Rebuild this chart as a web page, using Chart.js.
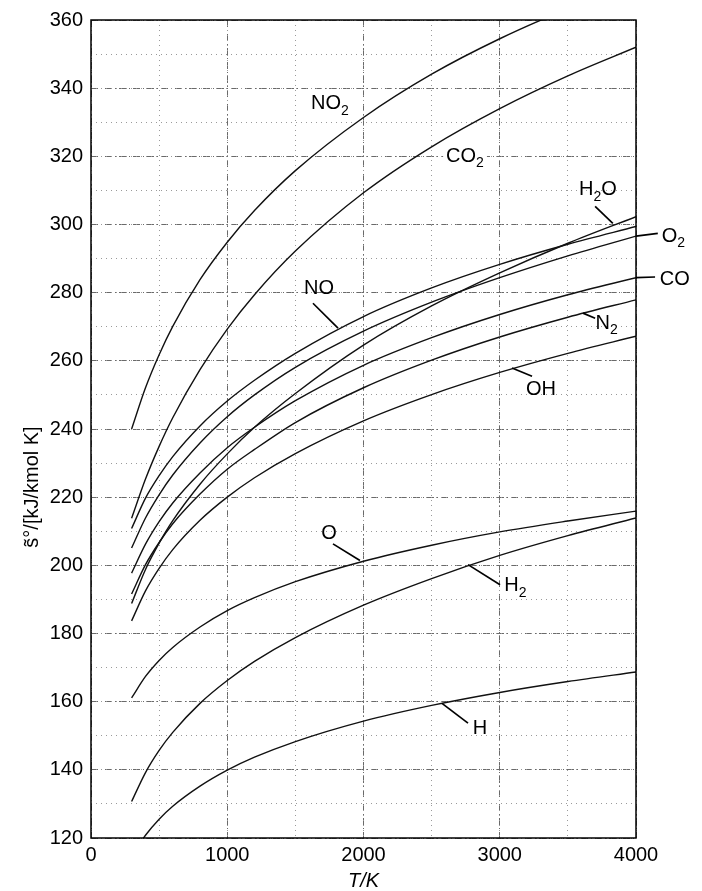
<!DOCTYPE html>
<html>
<head>
<meta charset="utf-8">
<script src="https://cdn.jsdelivr.net/npm/chart.js@4/dist/chart.umd.min.js"></script>
<style>
html, body { margin: 0; padding: 0; background: #fff; }
</style>
</head>
<body>
<canvas id="graph1" width="702" height="891"></canvas>
<script>
// temperatures (K) and standard entropies (kJ/kmol K)
var temps = [298, 400, 500, 600, 800, 1000, 1200, 1500, 2000, 2500, 3000, 3500, 4000];
var s_NO2 = [240.0, 252.1, 261.8, 270.1, 283.8, 294.8, 304.1, 315.8, 331.4, 344.1, 354.5, 363.3, 370.9];
var s_CO2 = [213.8, 225.3, 234.9, 243.3, 257.4, 269.3, 279.4, 292.2, 309.3, 322.8, 334.0, 343.6, 352.0];
var s_H2O = [188.8, 198.8, 206.5, 213.1, 223.8, 232.7, 240.5, 250.4, 264.6, 276.1, 285.8, 294.5, 302.3];
var s_O2  = [205.1, 213.9, 220.7, 226.5, 235.9, 243.6, 250.0, 258.1, 268.7, 277.2, 284.4, 290.8, 296.6];
var s_NO  = [210.8, 219.7, 226.3, 231.9, 240.9, 248.2, 254.3, 262.2, 273.0, 281.4, 288.3, 294.2, 299.4];
var s_CO  = [197.7, 206.2, 212.8, 218.3, 227.1, 234.5, 240.5, 248.3, 258.7, 266.8, 273.6, 279.4, 284.4];
var s_N2  = [191.6, 200.2, 206.7, 212.2, 220.9, 228.2, 234.0, 241.9, 252.1, 260.2, 267.0, 272.8, 277.9];
var s_OH  = [183.7, 192.5, 199.1, 204.6, 213.2, 220.0, 225.7, 232.8, 242.4, 250.1, 256.6, 262.2, 267.2];
var s_O   = [161.1, 167.4, 172.1, 175.9, 181.9, 186.7, 190.5, 195.2, 201.2, 205.9, 209.8, 213.0, 215.9];
var s_H2  = [130.7, 139.2, 145.7, 151.0, 159.5, 166.2, 171.8, 178.8, 188.3, 196.1, 202.9, 208.7, 213.9];
var s_H   = [114.7, 120.8, 125.5, 129.3, 135.2, 139.9, 143.7, 148.3, 154.3, 158.9, 162.7, 165.9, 168.7];

var species = ['NO2', 'CO2', 'H2O', 'O2', 'NO', 'CO', 'N2', 'OH', 'O', 'H2', 'H'];
var series = [s_NO2, s_CO2, s_H2O, s_O2, s_NO, s_CO, s_N2, s_OH, s_O, s_H2, s_H];

// curve labels: text, subscript, position in data units
var labelNames = ['NO', 'CO', 'H', 'O', 'CO', 'N', 'OH', 'NO', 'O', 'H', 'H'];
var labelSubs  = ['2', '2', '2O', '2', '', '2', '', '', '', '2', ''];
var labelT     = [1754, 2745, 3720, 4275, 4285, 3785, 3303, 1673, 1747, 3115, 2855];
var labelS     = [335.4, 320, 310.2, 296.5, 284, 271, 251.7, 281.3, 209.3, 194, 152.2];
// leader lines [T1, s1, T2, s2]
var leaders = [
    [3700, 305.3, 3830, 300.3],
    [4000, 296.6, 4160, 297.4],
    [4000, 284.4, 4140, 284.6],
    [3611, 274.0, 3700, 272.5],
    [3090, 257.9, 3237, 255.5],
    [1629, 276.9, 1813, 269.6],
    [1776, 206.3, 1974, 201.4],
    [2767, 200.2, 3002, 194.3],
    [2576, 159.5, 2767, 153.7]
];

var FONT = '"Liberation Sans", Arial, sans-serif';

var datasets = species.map(function(name, k) {
    return {
        label: name,
        data: temps.map(function(t, i) { return {x: t, y: series[k][i]}; }),
        borderColor: '#111',
        borderWidth: 1.4,
        pointRadius: 0,
        fill: false,
        cubicInterpolationMode: 'monotone'
    };
});

var decor = {
    id: 'decor',
    afterDatasetsDraw: function(chart) {
        var ctx = chart.ctx;
        var a = chart.chartArea;
        var sx = chart.scales.x, sy = chart.scales.y;
        ctx.save();
        // frame
        ctx.strokeStyle = '#000';
        ctx.lineWidth = 1.5;
        ctx.strokeRect(a.left, a.top, a.right - a.left, a.bottom - a.top);

        // leaders
        ctx.lineWidth = 1.7;
        leaders.forEach(function(l) {
            ctx.beginPath();
            ctx.moveTo(sx.getPixelForValue(l[0]), sy.getPixelForValue(l[1]));
            ctx.lineTo(sx.getPixelForValue(l[2]), sy.getPixelForValue(l[3]));
            ctx.stroke();
        });

        // curve labels
        ctx.fillStyle = '#000';
        ctx.textBaseline = 'middle';
        ctx.textAlign = 'left';
        labelNames.forEach(function(txt, i) {
            var sub = labelSubs[i];
            var px = sx.getPixelForValue(labelT[i]);
            var py = sy.getPixelForValue(labelS[i]);
            var tail = '';
            if (sub === '2O') { sub = '2'; tail = 'O'; }
            ctx.font = '20px ' + FONT;
            var w1 = ctx.measureText(txt).width;
            var w3 = tail ? ctx.measureText(tail).width : 0;
            ctx.font = '14px ' + FONT;
            var w2 = sub ? ctx.measureText(sub).width : 0;
            var x0 = px - (w1 + w2 + w3) / 2;
            if (i === 1) {
                ctx.fillStyle = '#fff';
                ctx.fillRect(x0 - 3, py - 11, w1 + w2 + w3 + 6, 24);
                ctx.fillStyle = '#000';
            }
            ctx.font = '20px ' + FONT;
            ctx.fillText(txt, x0, py);
            if (tail) ctx.fillText(tail, x0 + w1 + w2, py);
            if (sub) {
                ctx.font = '14px ' + FONT;
                ctx.fillText(sub, x0 + w1, py + 7);
            }
        });

        // axis titles
        ctx.font = 'italic 20px ' + FONT;
        ctx.textAlign = 'center';
        ctx.fillText('T/K', (a.left + a.right) / 2, 881);
        ctx.translate(32, 487);
        ctx.rotate(-Math.PI / 2);
        ctx.font = '20px ' + FONT;
        ctx.fillText('s\u0303\u00b0/[kJ/kmol K]', 0, 0);
        ctx.restore();
    }
};

var plain = function(v) { return String(v); };

var ctx = document.getElementById('graph1').getContext('2d');

var config = {
    type: 'line',
    data: { datasets: datasets },
    options: {
        responsive: false,
        animation: false,
        layout: { padding: { top: 18, right: 66, left: 0, bottom: 0 } },
        plugins: { legend: { display: false }, tooltip: { enabled: false } },
        scales: {
            x: {
                type: 'linear', min: 0, max: 4000,
                ticks: { stepSize: 1000, color: '#000', padding: 5, font: { family: FONT, size: 20 }, callback: plain },
                grid: { color: '#6a6a6a', lineWidth: 1, drawTicks: false },
                border: { display: false, dash: [7, 3, 1, 3] },
                afterFit: function(s) { s.height = 53; }
            },
            x2: {
                type: 'linear', position: 'bottom', min: 0, max: 4000,
                ticks: { display: false, stepSize: 500 },
                grid: { color: '#9a9a9a', lineWidth: 1, drawTicks: false },
                border: { display: false, dash: [1, 4] },
                afterFit: function(s) { s.height = 0; }
            },
            y: {
                type: 'linear', min: 120, max: 360,
                ticks: { stepSize: 20, color: '#000', padding: 8, font: { family: FONT, size: 20 }, callback: plain },
                grid: { color: '#6a6a6a', lineWidth: 1, drawTicks: false },
                border: { display: false, dash: [7, 3, 1, 3] },
                afterFit: function(s) { s.width = 91; }
            },
            y2: {
                type: 'linear', position: 'left', min: 120, max: 360,
                ticks: { display: false, stepSize: 10 },
                grid: { color: '#9a9a9a', lineWidth: 1, drawTicks: false },
                border: { display: false, dash: [1, 4] },
                afterFit: function(s) { s.width = 0; }
            }
        }
    },
    plugins: [decor]
};

var graph1 = new Chart(ctx, config);
</script>
</body>
</html>
